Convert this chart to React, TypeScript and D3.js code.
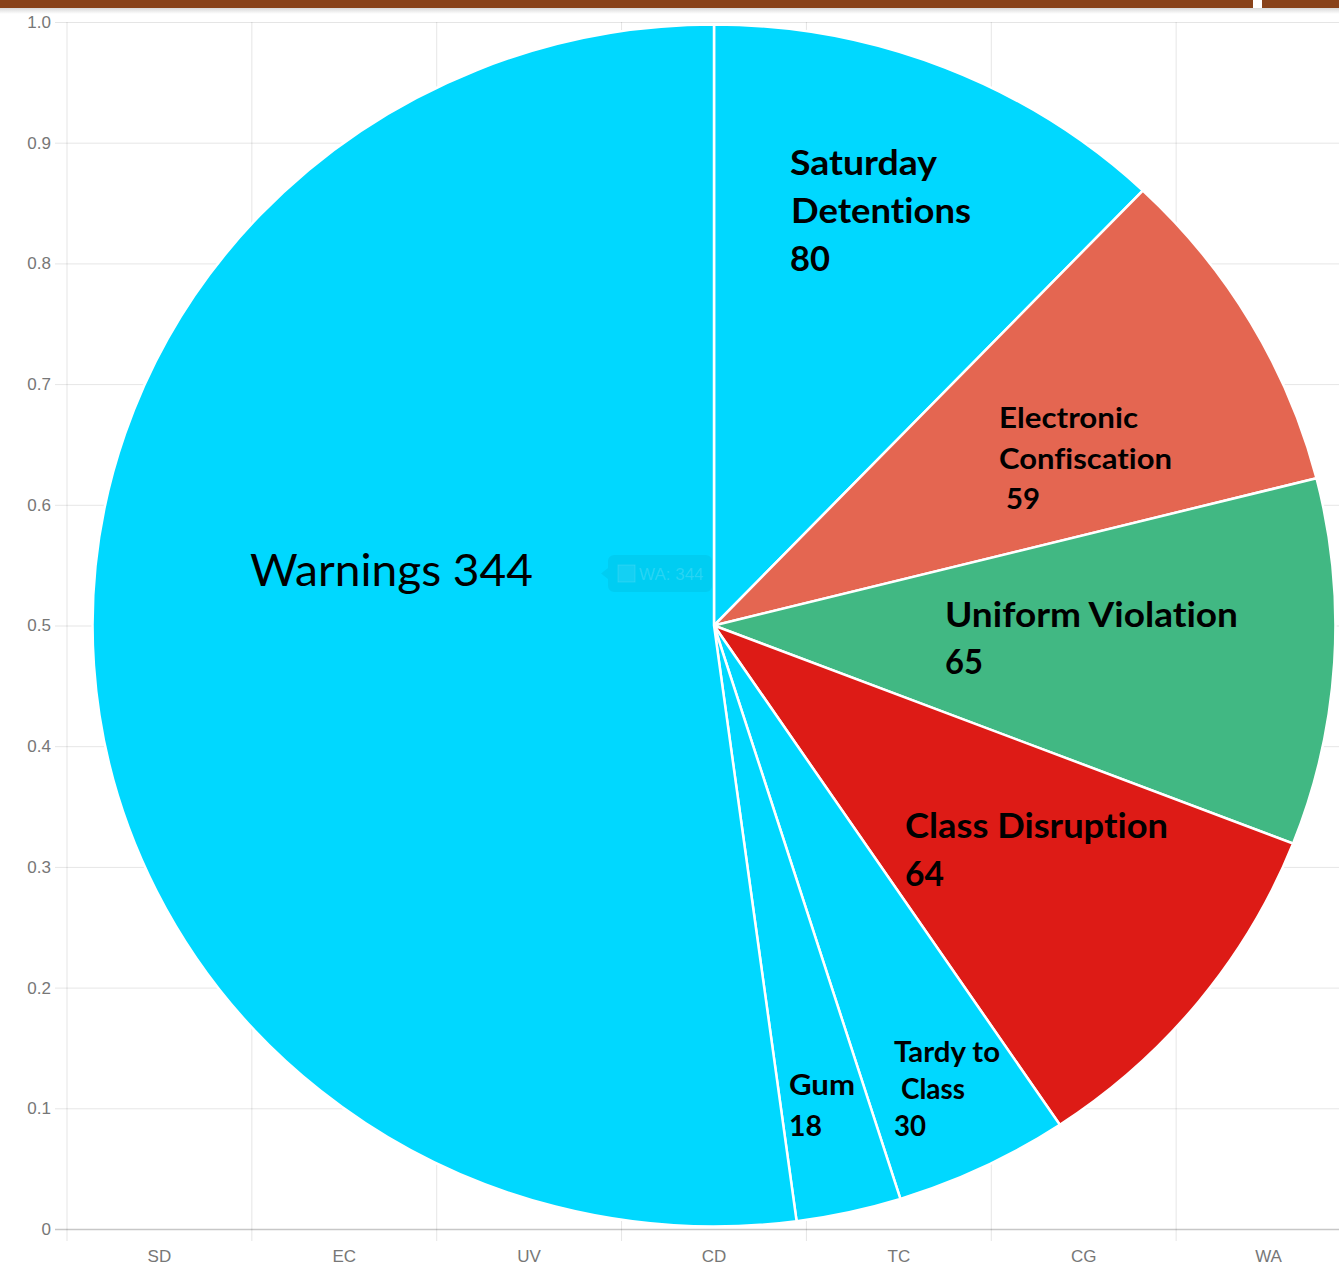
import * as d3 from "d3";
import React, { useEffect, useRef } from "react";

// chart data
const categories = ["SD", "EC", "UV", "CD", "TC", "CG", "WA"];
const values = [80, 59, 65, 64, 30, 18, 344];
const sliceColors = ["#00D8FF", "#E46651", "#41B883", "#DD1B16", "#00D8FF", "#00D8FF", "#00D8FF"];
const yTicks = [0, 0.1, 0.2, 0.3, 0.4, 0.5, 0.6, 0.7, 0.8, 0.9, 1.0];

// hand placed annotations on the slices
interface ILabel {
  lines: string[];
  x: number[];
  y: number;
  size: number;
  gap: number;
  widths: number[];
  weight: number;
}
const labels: ILabel[] = [
  { lines: ["Saturday", "Detentions", "80"], x: [790, 791, 790], y: 175, size: 35, gap: 48, widths: [147, 180, 40], weight: 700 },
  { lines: ["Electronic", "Confiscation", "59"], x: [999, 999, 1006], y: 428, size: 29, gap: 40.5, widths: [139, 173, 34], weight: 700 },
  { lines: ["Uniform Violation", "65"], x: [945, 945], y: 627, size: 35, gap: 47, widths: [293, 38], weight: 700 },
  { lines: ["Class Disruption", "64"], x: [905, 905], y: 838, size: 35, gap: 48, widths: [263, 39], weight: 700 },
  { lines: ["Tardy to", "Class", "30"], x: [894, 901, 894], y: 1062, size: 28, gap: 37, widths: [106, 64, 32], weight: 700 },
  { lines: ["Gum", "18"], x: [789, 789], y: 1095, size: 28, gap: 41, widths: [66, 33], weight: 700 },
  { lines: ["Warnings 344"], x: [250], y: 586, size: 44, gap: 0, widths: [283], weight: 400 },
];

const W = 1339;
const H = 1269;
const left = 67;
const right = 1361;
const top = 22;
const bottom = 1229;

const App: React.FC = () => {
  const svgRef = useRef<SVGSVGElement>(null);

  useEffect(() => {
    const svg = d3.select(svgRef.current);
    svg.selectAll("*").remove();

    const x = d3.scaleBand().domain(categories).range([left, right]);
    const y = d3.scaleLinear().domain([0, 1]).range([bottom, top]);

    // header bar
    const defs = svg.append("defs");
    const grad = defs
      .append("linearGradient")
      .attr("id", "shade")
      .attr("x1", 0)
      .attr("x2", 0)
      .attr("y1", 0)
      .attr("y2", 1);
    grad.append("stop").attr("offset", 0).attr("stop-color", "#d8d8d8");
    grad.append("stop").attr("offset", 1).attr("stop-color", "#ffffff");
    svg.append("rect").attr("x", 0).attr("y", 8).attr("width", W).attr("height", 6).attr("fill", "url(#shade)");
    svg.append("rect").attr("x", 0).attr("y", 0).attr("width", W).attr("height", 8).attr("fill", "#88421a");
    svg.append("rect").attr("x", 1253).attr("y", 0).attr("width", 9).attr("height", 8).attr("fill", "#ffffff");

    // y axis grid
    const yAxis = svg
      .append("g")
      .attr("transform", `translate(${left},0)`)
      .call(
        d3
          .axisLeft(y)
          .tickValues(yTicks)
          .tickSize(-(right - left))
          .tickPadding(16)
          .tickFormat((d) => (d === 0 ? "0" : d3.format(".1f")(d as number)))
      );
    yAxis.select(".domain").remove();
    yAxis
      .selectAll(".tick line")
      .attr("x1", -12)
      .attr("stroke", (d) => (d === 0 ? "rgba(0,0,0,0.22)" : "rgba(0,0,0,0.1)"))
      .attr("stroke-width", (d) => (d === 0 ? 1.5 : 1));
    yAxis
      .selectAll("text")
      .attr("fill", "#777")
      .style("font-family", "'Liberation Sans', Arial, sans-serif")
      .style("font-size", "17px");

    // x axis grid
    const xAxis = svg.append("g").attr("transform", `translate(0,${bottom})`);
    xAxis
      .selectAll("line")
      .data(categories)
      .join("line")
      .attr("x1", (d) => x(d) as number)
      .attr("x2", (d) => x(d) as number)
      .attr("y1", top - bottom)
      .attr("y2", 12)
      .attr("stroke", "rgba(0,0,0,0.1)");
    xAxis
      .selectAll("text")
      .data(categories)
      .join("text")
      .attr("x", (d) => (x(d) as number) + x.bandwidth() / 2)
      .attr("y", 33)
      .attr("text-anchor", "middle")
      .attr("fill", "#777")
      .style("font-family", "'Liberation Sans', Arial, sans-serif")
      .style("font-size", "17px")
      .text((d) => d);

    // pie
    const cx = (left + right) / 2;
    const cy = (top + bottom) / 2;
    const pie = d3.pie<number>().sort(null)(values);
    const arc = d3.arc<d3.PieArcDatum<number>>().innerRadius(0).outerRadius(601);
    svg
      .append("g")
      .attr("transform", `translate(${cx},${cy}) scale(1.034,1)`)
      .selectAll("path")
      .data(pie)
      .join("path")
      .attr("d", arc)
      .attr("fill", (_, i) => sliceColors[i])
      .attr("stroke", "#ffffff")
      .attr("stroke-width", 2.5)
      .attr("vector-effect", "non-scaling-stroke");

    // faint tooltip
    const tip = svg.append("g").attr("transform", `translate(608,555)`);
    tip
      .append("path")
      .attr("d", "M6,0 H98 a6,6 0 0 1 6,6 V31 a6,6 0 0 1 -6,6 H6 a6,6 0 0 1 -6,-6 V24 L-7,18.5 L0,13 V6 a6,6 0 0 1 6,-6 Z")
      .attr("fill", "rgba(0,0,0,0.05)");
    tip
      .append("rect")
      .attr("x", 10)
      .attr("y", 10)
      .attr("width", 17)
      .attr("height", 17)
      .attr("fill", "rgba(255,255,255,0.08)")
      .attr("stroke", "rgba(255,255,255,0.12)");
    tip
      .append("text")
      .attr("x", 31)
      .attr("y", 25)
      .attr("fill", "rgba(255,255,255,0.16)")
      .style("font-family", "'Liberation Sans', Arial, sans-serif")
      .style("font-size", "17px")
      .text(`${categories[6]}: ${values[6]}`);

    // slice annotations
    const lg = svg.append("g").attr("fill", "#000");
    labels.forEach((l) => {
      l.lines.forEach((t, i) => {
        lg.append("text")
          .attr("x", l.x[i])
          .attr("y", l.y + i * l.gap)
          .attr("textLength", l.widths[i])
          .attr("lengthAdjust", "spacingAndGlyphs")
          .style("font-family", "Lato, 'Open Sans', sans-serif")
          .style("font-weight", l.weight)
          .style("font-size", `${l.size}px`)
          .style("font-variant-ligatures", "none")
          .text(t);
      });
    });
  }, []);

  return (
    <div style={{ position: "absolute", left: 0, top: 0 }}>
      <svg ref={svgRef} width={W} height={H} style={{ display: "block", background: "#fff" }} />
    </div>
  );
};

export default App;
